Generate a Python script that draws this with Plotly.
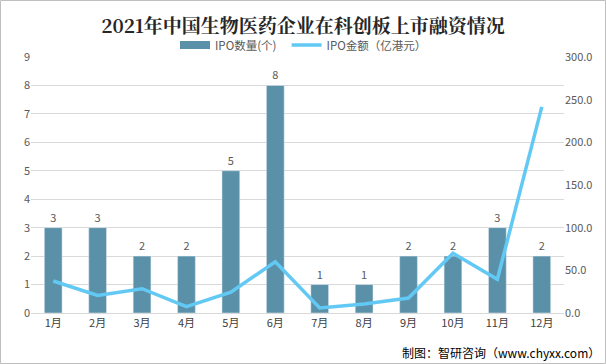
import plotly.graph_objects as go

months = ["1月", "2月", "3月", "4月", "5月", "6月", "7月", "8月", "9月", "10月", "11月", "12月"]
ipo_count = [3, 3, 2, 2, 5, 8, 1, 1, 2, 2, 3, 2]
ipo_amount = [37.5, 20.5, 28.5, 7.5, 24.5, 60.0, 6.0, 10.5, 17.5, 70.0, 39.5, 241.5]
left_ticks = list(range(0, 10))
right_ticks = [0, 50, 100, 150, 200, 250, 300]

W, H = 606, 364
ml, mr, mt, mb = 31, 42, 57, 51
pw, ph = W - ml - mr, H - mt - mb

font_family = "Microsoft YaHei, Noto Sans CJK SC, sans-serif"
gray = "#595959"
bar_color = "#5b91a8"
line_color = "#62c9f4"

fig = go.Figure()
fig.add_trace(go.Bar(
    x=months, y=ipo_count, name="IPO数量(个)", showlegend=False,
    marker=dict(color=bar_color), width=0.4,
    text=ipo_count, textposition="outside", cliponaxis=False,
    textfont=dict(size=11, color=gray),
))
# legend-only entry to mimic the wide rectangular swatch
fig.add_trace(go.Scatter(
    x=[None], y=[None], name="IPO数量(个)  ", mode="lines",
    line=dict(color=bar_color, width=8),
))
fig.add_trace(go.Scatter(
    x=months, y=ipo_amount, name="IPO金额（亿港元）", yaxis="y2",
    mode="lines", line=dict(color=line_color, width=3.5),
))

fig.update_layout(
    width=W, height=H,
    margin=dict(l=ml, r=mr, t=mt, b=mb),
    paper_bgcolor="white", plot_bgcolor="white",
    font=dict(family=font_family, color=gray, size=11),
    title=dict(text="<b>2021年中国生物医药企业在科创板上市融资情况</b>",
               x=0.5, xanchor="center", y=1 - 26 / H, yanchor="middle",
               font=dict(size=19, color="#262626", family="Noto Serif CJK SC, Noto Sans CJK SC, serif")),
    legend=dict(orientation="h", x=(303.5 - ml) / pw, xanchor="center", y=1 + 12 / ph, yanchor="middle",
                font=dict(size=11.5, color=gray), bgcolor="rgba(0,0,0,0)",
                traceorder="normal"),
    xaxis=dict(showgrid=False, showline=True, linecolor="#d9d9d9", ticks="",
               tickfont=dict(size=11, color="#404040")),
    yaxis=dict(range=[0, 9], tickvals=left_ticks, showgrid=True, gridcolor="#d9d9d9",
               zeroline=False, ticks="", tickfont=dict(size=11, color=gray)),
    yaxis2=dict(range=[0, 300], tickvals=right_ticks, tickformat=".1f", overlaying="y",
                side="right", showgrid=False, zeroline=False, ticks="",
                tickfont=dict(size=11, color=gray)),
    showlegend=True,
)

fig.add_shape(type="rect", xref="paper", yref="paper",
              x0=-(ml - 0.5) / pw, x1=1 + (mr - 0.5) / pw,
              y0=-(mb - 0.5) / ph, y1=1 + (mt - 0.5) / ph,
              line=dict(color="#bfbfbf", width=1), layer="below")

fig.add_annotation(text="制图：智研咨询（www.chyxx.com）", xref="paper", yref="paper",
                   x=1 + (mr - 4) / pw, xanchor="right", y=-(352 - mt - ph) / ph, yanchor="middle",
                   showarrow=False, font=dict(size=12, color="#000000"))

fig.write_html("out.html", config={"displayModeBar": False},
               post_script="document.body.style.margin='0px';document.body.style.overflow='hidden';")
